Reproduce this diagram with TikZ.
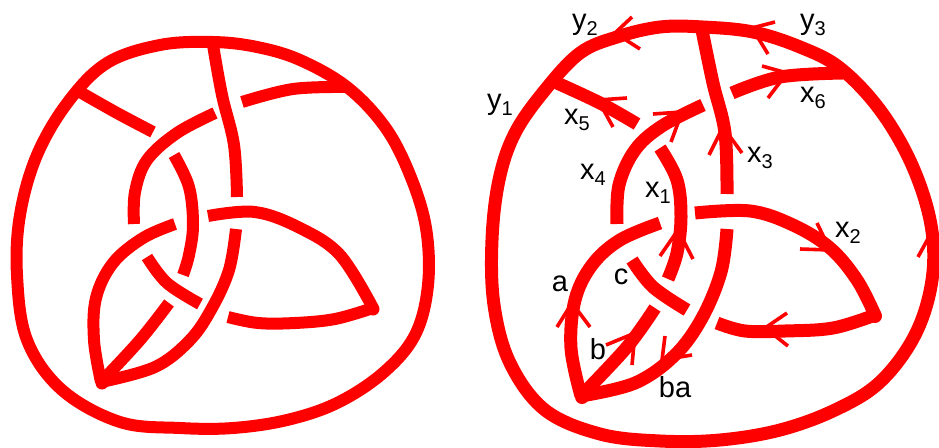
\documentclass[tikz,border=0pt]{standalone}
\usepackage{fontspec}
\setmainfont{Liberation Sans}
\definecolor{knotred}{RGB}{255,0,0}
\newcommand{\subidx}[1]{\raisebox{-6pt}{\fontsize{20}{20}\selectfont #1}}

\begin{document}
\begin{tikzpicture}[
    x=1pt, y=-1pt,
    strand/.style={knotred, line width=12pt, line join=round}, % Style for the knot strands
    rstrand/.style={knotred, line width=13pt, line join=round}, % Style for the right knot
    barb/.style={knotred, line width=3.6pt}, % Style for the open arrowheads
    labelstyle/.style={black, inner sep=0pt, font=\fontsize{29}{32}\selectfont} % Style for the labels
]
    \useasboundingbox (0,0) rectangle (939,447);

    % Left knot: outer loop
    \draw[strand] plot [smooth cycle, tension=0.6] coordinates {
        (213,42) (160,45) (107,63) (68,102) (37,155) (20,215) (17,275) (27,340)
        (62,390) (120,422) (180,428) (233,428) (287,420) (337,403) (383,373)
        (415,335) (428,285) (426,228) (410,175) (385,127) (347,87) (300,60) (257,47)
    };

    % Left knot: arcs
    \draw[strand] plot [smooth, tension=0.6] coordinates {(80,92) (117,113) (153,132)};
    \draw[strand] plot [smooth, tension=0.6] coordinates {(213,45) (222,95) (234,145) (237,197)};
    \draw[strand] plot [smooth, tension=0.6] coordinates {(242,102) (293,89) (347,87)};
    \draw[strand] plot [smooth, tension=0.6] coordinates {(215,113) (177,133) (147,160) (135,192) (134,224)};
    \draw[strand] plot [smooth, tension=0.6] coordinates {(174,155) (189,187) (193,225) (189,255) (183,275)};
    \draw[strand] plot [smooth, tension=0.6] coordinates {(208,216) (255,212) (300,228) (340,255) (373,308)};
    \draw[strand] plot [smooth, tension=0.6] coordinates {(373,308) (335,319) (295,323) (258,323) (228,317)};
    \draw[strand] plot [smooth, tension=0.6] coordinates {(175,224) (143,238) (113,263) (96,298) (94,340) (101,382)};
    \draw[strand] plot [smooth, tension=0.6] coordinates {(236,229) (229,270) (212,308) (190,340) (155,367) (101,382)};
    \draw[strand] plot [smooth, tension=0.6] coordinates {(147,257) (167,283) (200,304)};
    \draw[strand] plot [smooth, tension=0.6] coordinates {(169,303) (140,340) (101,382)};
    \fill[knotred] (373,309) circle (6.5) (102,383) circle (6.5); % rounded corners

    % Right knot: outer loop
    \draw[rstrand] plot [smooth cycle, tension=0.6] coordinates {
        (703,27) (660,27) (617,37) (580,53) (545,90) (515,133) (499,180) (492,240)
        (494,305) (510,363) (545,410) (600,434) (660,441) (720,440) (780,430)
        (835,410) (880,382) (915,335) (932,280) (931,225) (912,165) (880,110)
        (840,68) (800,47) (753,32)
    };

    % Right knot: arcs
    \draw[rstrand] plot [smooth, tension=0.6] coordinates {(557,83) (600,103) (637,124)};
    \draw[rstrand] plot [smooth, tension=0.6] coordinates {(702,30) (713,83) (725,133) (727,194)};
    \draw[rstrand] plot [smooth, tension=0.6] coordinates {(732,93) (780,77) (843,73)};
    \draw[rstrand] plot [smooth, tension=0.6] coordinates {(703,105) (662,126) (635,150) (619,185) (617,224)};
    \draw[rstrand] plot [smooth, tension=0.6] coordinates {(660,148) (677,180) (681,217) (677,253) (668,279)};
    \draw[rstrand] plot [smooth, tension=0.6] coordinates {(695,213) (750,211) (793,225) (830,248) (857,280) (875,315)};
    \draw[rstrand] plot [smooth, tension=0.6] coordinates {(875,315) (833,328) (785,331) (745,331) (717,323)};
    \draw[rstrand] plot [smooth, tension=0.6] coordinates {(660,223) (620,240) (592,265) (575,300) (571,348) (581,396)};
    \draw[rstrand] plot [smooth, tension=0.6] coordinates {(727,229) (721,272) (702,318) (675,355) (635,383) (581,396)};
    \draw[rstrand] plot [smooth, tension=0.6] coordinates {(632,260) (653,287) (687,310)};
    \draw[rstrand] plot [smooth, tension=0.6] coordinates {(655,308) (627,347) (581,396)};
    \fill[knotred] (875,316) circle (7) (582,397) circle (7); % rounded corners

    % Open arrowheads
    \foreach \ax/\ay/\bx/\by/\tx/\ty in {
        632/17/640/49/615/33,   775/22/768/54/752/28,   762/66/768/98/787/73,
        627/98/613/127/598/100, 653/114/671/142/682/112, 709/155/742/153/723/127,
        660/256/693/259/678/230, 817/223/800/249/830/250, 918/257/945/258/930/235,
        557/327/590/327/572/303, 606/345/632/365/635/333, 665/336/692/355/662/360,
        787/313/788/346/765/328}
        \draw[barb] (\ax,\ay) -- (\tx,\ty) -- (\bx,\by);

    % Labels
    \node[labelstyle] (y1) at (500,105) {y\subidx{1}};
    \node[labelstyle] (y2) at (585,25) {y\subidx{2}};
    \node[labelstyle] (y3) at (813,25) {y\subidx{3}};
    \node[labelstyle] (x1) at (658,193) {x\subidx{1}};
    \node[labelstyle] (x2) at (848,233) {x\subidx{2}};
    \node[labelstyle] (x3) at (760,158) {x\subidx{3}};
    \node[labelstyle] (x4) at (593,175) {x\subidx{4}};
    \node[labelstyle] (x5) at (577,120) {x\subidx{5}};
    \node[labelstyle] (x6) at (813,98) {x\subidx{6}};
    \node[labelstyle] (a) at (560,284) {a};
    \node[labelstyle] (b) at (598,349) {b};
    \node[labelstyle] (c) at (621,277) {c};
    \node[labelstyle] (ba) at (675,387) {ba};

\end{tikzpicture}
\end{document}
